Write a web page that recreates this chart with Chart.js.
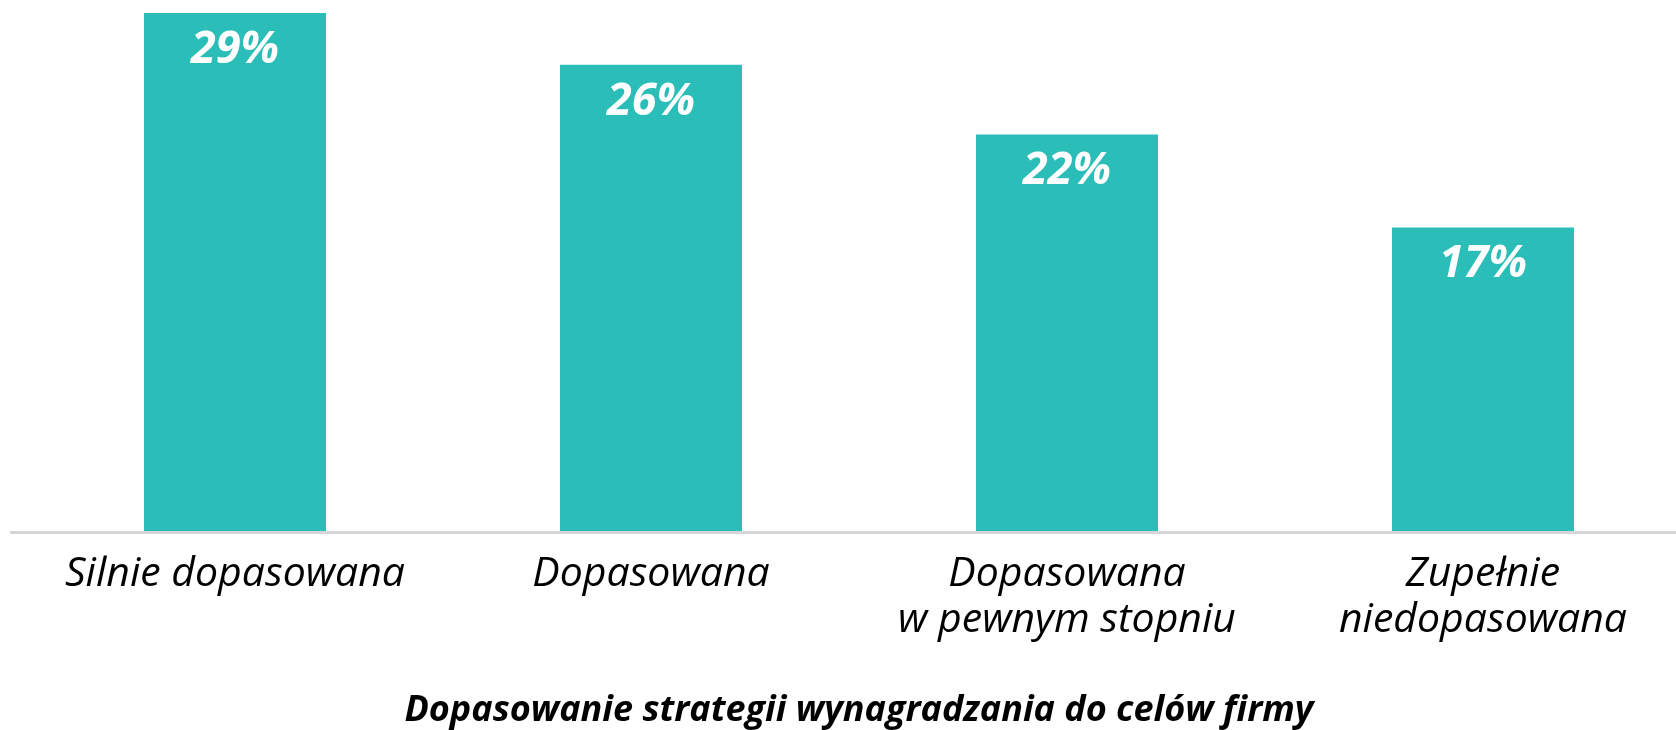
<!DOCTYPE html>
<html lang="pl">
<head>
<meta charset="utf-8">
<title>Dopasowanie strategii wynagradzania</title>
<script src="https://cdn.jsdelivr.net/npm/chart.js@4/dist/chart.umd.min.js"></script>
<style>
    html, body { margin: 0; padding: 0; background: #fff; overflow: hidden; }
    #wrap { width: 1691px; height: 730px; position: relative; }
</style>
</head>
<body>
<div id="wrap"><canvas id="myChart"></canvas></div>
<script>
// Dane wykresu
const categories = [
    'Silnie dopasowana',
    'Dopasowana',
    ['Dopasowana', 'w pewnym stopniu'],
    ['Zupełnie', 'niedopasowana']
];
const shares = [29, 26.1, 22.2, 17];
const valueLabels = ['29%', '26%', '22%', '17%'];
const axisTitle = 'Dopasowanie strategii wynagradzania do celów firmy';

const barColor = '#2bbdb7';

// Linia osi X od lewej krawędzi do prawej
const baseLine = {
    id: 'baseLine',
    afterDatasetsDraw(chart) {
        const { ctx } = chart;
        const y = chart.scales.y.getPixelForValue(0);
        ctx.save();
        ctx.strokeStyle = '#d6d6d6';
        ctx.lineWidth = 3;
        ctx.beginPath();
        ctx.moveTo(10, y + 1);
        ctx.lineTo(chart.width, y + 1);
        ctx.stroke();
        ctx.restore();
    }
};

// Etykiety wartości wewnątrz słupków
const barLabels = {
    id: 'barLabels',
    afterDatasetsDraw(chart) {
        const { ctx } = chart;
        const meta = chart.getDatasetMeta(0);
        ctx.save();
        ctx.fillStyle = '#ffffff';
        ctx.font = 'italic bold 45px "Open Sans"';
        ctx.textAlign = 'center';
        ctx.textBaseline = 'middle';
        meta.data.forEach((bar, i) => {
            ctx.fillText(valueLabels[i], bar.x, bar.y + 37);
        });
        ctx.restore();
    }
};

function renderChart() {
    const ctx = document.getElementById('myChart').getContext('2d');
    new Chart(ctx, {
        type: 'bar',
        data: {
            labels: categories,
            datasets: [{
                data: shares,
                backgroundColor: barColor,
                barPercentage: 0.4375,
                categoryPercentage: 1,
            }]
        },
        options: {
            responsive: true,
            maintainAspectRatio: false,
            animation: false,
            layout: { padding: { left: 27, right: 0, top: 0, bottom: 0 } },
            plugins: {
                legend: { display: false },
                tooltip: { enabled: false },
            },
            scales: {
                y: {
                    display: false,
                    min: 0,
                    max: 29.72,
                },
                x: {
                    grid: { display: false, drawTicks: false },
                    border: { display: false },
                    ticks: {
                        color: '#000',
                        padding: 20,
                        maxRotation: 0,
                        autoSkip: false,
                        font: { family: '"Open Sans"', size: 41, style: 'italic', lineHeight: 1.12 },
                    },
                    title: {
                        display: true,
                        text: axisTitle,
                        color: '#000',
                        padding: { top: 0, bottom: 0 },
                        font: { family: '"Open Sans"', size: 36, style: 'italic', weight: 'bold', lineHeight: 1.05 },
                    },
                    afterFit(scale) {
                        scale.height = 198.5;
                    },
                },
            },
        },
        plugins: [baseLine, barLabels],
    });
}

document.addEventListener('DOMContentLoaded', () => {
    renderChart();
});
</script>
</body>
</html>
